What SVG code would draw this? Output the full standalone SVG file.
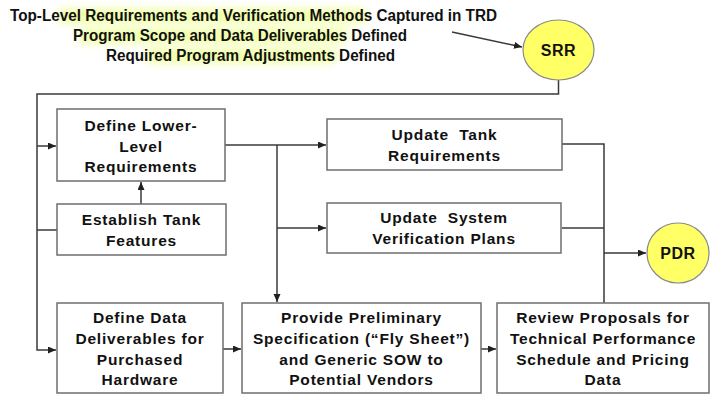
<svg xmlns="http://www.w3.org/2000/svg" width="711" height="395" viewBox="0 0 711 395">
  <defs>
    <marker id="arrow" markerUnits="userSpaceOnUse" markerWidth="9" markerHeight="8" refX="8" refY="3.5" orient="auto">
      <path d="M0,0 L8,3.5 L0,7 z" fill="#202020"/>
    </marker>
    <filter id="glow" x="-20%" y="-100%" width="140%" height="300%">
      <feGaussianBlur stdDeviation="4.5"/>
    </filter>
    <style>
      .box { fill: #ffffff; stroke: #6e6e6e; stroke-width: 1.5; }
      .oval { fill: #ffff66; stroke: #8a8a8a; stroke-width: 1.2; }
      .wire { fill: none; stroke: #3a3a3a; stroke-width: 1.5; }
      .lbl { font-family: "Liberation Sans", Arial, sans-serif; font-weight: bold; font-size: 15.5px; letter-spacing: 0.8px; fill: #111111; text-anchor: middle; white-space: pre; }
      .head { font-family: "Liberation Sans", Arial, sans-serif; font-weight: bold; font-size: 16px; fill: #111111; }
      .hl { fill: #e6ff66; opacity: 0.6; filter: url(#glow); }
    </style>
  </defs>

  <!-- soft highlight behind the review criteria -->
  <g id="highlights">
    <rect class="hl" x="58" y="9" width="310" height="14" rx="6"/>
    <rect class="hl" x="78" y="29" width="270" height="14" rx="6"/>
    <rect class="hl" x="145" y="49" width="192" height="14" rx="6"/>
  </g>

  <!-- review criteria -->
  <g id="criteria">
    <text class="head" x="10" y="21" textLength="487" lengthAdjust="spacingAndGlyphs">Top-Level Requirements and Verification Methods Captured in TRD</text>
    <text class="head" x="73" y="41" textLength="334" lengthAdjust="spacingAndGlyphs">Program Scope and Data Deliverables Defined</text>
    <text class="head" x="106" y="61" textLength="289" lengthAdjust="spacingAndGlyphs">Required Program Adjustments Defined</text>
  </g>

  <!-- connectors -->
  <g id="connectors">
    <line class="wire" x1="452" y1="32" x2="522" y2="47" marker-end="url(#arrow)"/>
    <path class="wire" d="M558.5,80 V94 H37 V350 H56" marker-end="url(#arrow)"/>
    <path class="wire" d="M37,146 H56" marker-end="url(#arrow)"/>
    <path class="wire" d="M37,230 H57"/>
    <path class="wire" d="M141,204 V182" marker-end="url(#arrow)"/>
    <path class="wire" d="M224,145 H326" marker-end="url(#arrow)"/>
    <path class="wire" d="M277,145 V302" marker-end="url(#arrow)"/>
    <path class="wire" d="M277,228 H326" marker-end="url(#arrow)"/>
    <path class="wire" d="M562,144 H604 V303"/>
    <path class="wire" d="M562,228 H604"/>
    <path class="wire" d="M604,253 H646" marker-end="url(#arrow)"/>
    <path class="wire" d="M223,349 H241" marker-end="url(#arrow)"/>
    <path class="wire" d="M481,349 H496" marker-end="url(#arrow)"/>
  </g>

  <g id="srr">
    <ellipse class="oval" cx="558.5" cy="50" rx="35.5" ry="30"/>
    <text class="lbl" x="558.5" y="56" style="letter-spacing:0.5px;font-size:16px">SRR</text>
  </g>

  <g id="pdr">
    <ellipse class="oval" cx="678" cy="253" rx="31" ry="30"/>
    <text class="lbl" x="678" y="259" style="letter-spacing:0.5px;font-size:16px">PDR</text>
  </g>

  <g id="define-lower-level">
    <rect class="box" x="57" y="109" width="168" height="72"/>
    <text class="lbl" x="141" y="131">Define Lower-</text>
    <text class="lbl" x="141" y="152">Level</text>
    <text class="lbl" x="141" y="172">Requirements</text>
  </g>

  <g id="establish-features">
    <rect class="box" x="57" y="204" width="169" height="51"/>
    <text class="lbl" x="141.5" y="225">Establish Tank</text>
    <text class="lbl" x="141.5" y="246">Features</text>
  </g>

  <g id="update-tank">
    <rect class="box" x="327" y="119" width="235" height="51"/>
    <text class="lbl" x="444.5" y="140">Update  Tank</text>
    <text class="lbl" x="444.5" y="161">Requirements</text>
  </g>

  <g id="update-verification">
    <rect class="box" x="327" y="203" width="234" height="50"/>
    <text class="lbl" x="444" y="223">Update  System</text>
    <text class="lbl" x="444" y="244">Verification Plans</text>
  </g>

  <g id="define-data">
    <rect class="box" x="57" y="303" width="166" height="90"/>
    <text class="lbl" x="140" y="323">Define Data</text>
    <text class="lbl" x="140" y="344">Deliverables for</text>
    <text class="lbl" x="140" y="365">Purchased</text>
    <text class="lbl" x="140" y="385">Hardware</text>
  </g>

  <g id="provide-spec">
    <rect class="box" x="242" y="303" width="239" height="90"/>
    <text class="lbl" x="361.5" y="323">Provide Preliminary</text>
    <text class="lbl" x="361.5" y="344">Specification (“Fly Sheet”)</text>
    <text class="lbl" x="361.5" y="365">and Generic SOW to</text>
    <text class="lbl" x="361.5" y="385">Potential Vendors</text>
  </g>

  <g id="review-proposals">
    <rect class="box" x="497" y="303" width="212" height="90"/>
    <text class="lbl" x="603" y="323">Review Proposals for</text>
    <text class="lbl" x="603" y="344">Technical Performance</text>
    <text class="lbl" x="603" y="365">Schedule and Pricing</text>
    <text class="lbl" x="603" y="385">Data</text>
  </g>
</svg>
